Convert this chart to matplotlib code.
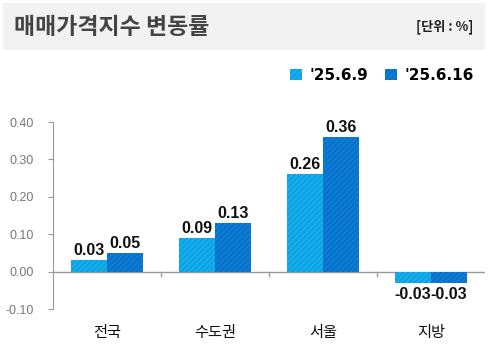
import matplotlib
matplotlib.use("Agg")
import matplotlib.pyplot as plt
import numpy as np
from matplotlib.patches import Rectangle

plt.rcParams['font.family'] = ['Noto Sans CJK KR', 'DejaVu Sans']
plt.rcParams['hatch.linewidth'] = 1.5

# data
regions = ['전국', '수도권', '서울', '지방']
series = ["'25.6.9", "'25.6.16"]
week1 = [0.03, 0.09, 0.26, -0.03]
week2 = [0.05, 0.13, 0.36, -0.03]
yticks = [-0.10, 0.00, 0.10, 0.20, 0.30, 0.40]

colors = ['#08a3e4', '#0571ca']
hatch_colors = ['#1aaceb', '#107bd3']
num_font = ['Liberation Sans', 'DejaVu Sans']

fig = plt.figure(figsize=(4.88, 3.5), dpi=100)

# header band
fig.patches.append(Rectangle((3/488, 1-50/350), 482/488, 47/350, transform=fig.transFigure,
                             facecolor='#f2f2f2', edgecolor='none', zorder=0))
fig.text(14/488, 1-27/350, '매매가격지수 변동률', fontsize=16.5, fontweight='bold',
         color='#444444', va='center', ha='left')
fig.text(473/488, 1-27/350, '[단위 : %]', fontsize=9.5, fontweight='bold',
         color='#222222', va='center', ha='right')

ax = fig.add_axes([53/488, 1-309/350, 432/488, 187/350])
x = np.arange(len(regions))
w = 1/3
vals = [week1, week2]
for i in range(2):
    bars = ax.bar(x - w/2 + i*w, vals[i], width=w, color=colors[i],
                  edgecolor=hatch_colors[i], linewidth=0, hatch='//////', label=series[i], zorder=2)
    for b, v in zip(bars, vals[i]):
        off = 0.006 if v >= 0 else -0.012
        ax.text(b.get_x() + b.get_width()/2, v + off, f'{v:.2f}',
                ha='center', va='bottom' if v >= 0 else 'top', fontsize=11.5,
                fontweight='bold', family=num_font, color='#111111')

ax.set_xlim(-0.5, len(regions) - 0.5)
ax.set_ylim(-0.10, 0.40)
ax.set_yticks(yticks)
ax.set_yticklabels([f'{t:.2f}' for t in yticks], fontsize=9, color='#777777', family='Liberation Sans')
ax.tick_params(axis='y', length=3.6, color='#999999', pad=10.5)
ax.set_xticks([])
for s in ['top', 'right', 'bottom']:
    ax.spines[s].set_visible(False)
ax.spines['left'].set_color('#999999')
ax.axhline(0, color='#999999', linewidth=1, zorder=1)
for b in [0.5, 1.5, 2.5]:
    ax.plot([b, b], [0, -0.012], color='#999999', linewidth=1, clip_on=False, zorder=1)
for xi, name in zip(x, regions):
    ax.text(xi, -0.162, name, ha='center', va='center', fontsize=11, color='#111111')

leg = fig.legend(loc='center', bbox_to_anchor=(382/488, 1-75/350), ncol=2, frameon=False,
                 handlelength=0.75, handleheight=0.75, handletextpad=0.5, columnspacing=1.1,
                 prop={'size': 11, 'weight': 'bold', 'family': ['DejaVu Sans']})

fig.savefig('out.png', dpi=100)
